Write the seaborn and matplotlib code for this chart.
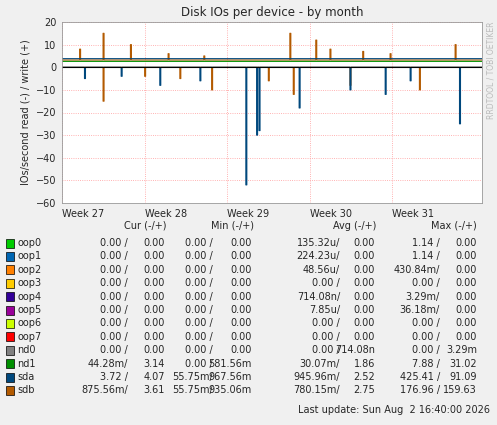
import numpy as np
import matplotlib.pyplot as plt
import seaborn as sns

sns.set_style("white")
plt.rcParams['font.family'] = ['DejaVu Sans']

# days since start of week 27
week_ticks = [0, 7, 14, 21, 28]
week_labels = ["Week 27", "Week 28", "Week 29", "Week 30", "Week 31"]

# spikes (day, value)
sda_read_spikes = [(1.9, -5), (8.3, -8), (11.7, -6), (15.6, -52), (16.5, -30), (16.7, -28),
                   (20.1, -18), (24.4, -10), (27.4, -12), (33.7, -25), (29.5, -6), (5.0, -4)]
sdb_write_spikes = [(1.5, 8), (3.5, 15), (5.8, 10), (12.0, 5), (19.3, 15), (21.5, 12),
                    (22.7, 8), (27.8, 6), (33.3, 10), (9.0, 6), (25.5, 7)]
sdb_read_spikes = [(3.5, -15), (10.0, -5), (12.7, -10), (19.6, -12), (24.4, -8),
                   (30.3, -10), (17.5, -6), (7.0, -4)]
sda_write_base = 3.8
sdb_write_base = 3.2
nd1_write_base = 2.6

names = ["oop0", "oop1", "oop2", "oop3", "oop4", "oop5", "oop6", "oop7", "nd0", "nd1", "sda", "sdb"]
colors = ["#00cc00", "#0066b3", "#ff8000", "#ffcc00", "#330099", "#990099",
          "#ccff00", "#ff0000", "#808080", "#008f00", "#00487d", "#b35a00"]
cur = [("0.00 /", "0.00")] * 9 + [("44.28m/", "3.14"), ("3.72 /", "4.07"), ("875.56m/", "3.61")]
mins = [("0.00 /", "0.00")] * 9 + [("0.00 /", "581.56m"), ("55.75m/", "967.56m"), ("55.75m/", "935.06m")]
avgs = [("135.32u/", "0.00"), ("224.23u/", "0.00"), ("48.56u/", "0.00"), ("0.00 /", "0.00"),
        ("714.08n/", "0.00"), ("7.85u/", "0.00"), ("0.00 /", "0.00"), ("0.00 /", "0.00"),
        ("0.00 /", "714.08n"), ("30.07m/", "1.86"), ("945.96m/", "2.52"), ("780.15m/", "2.75")]
maxs = [("1.14 /", "0.00"), ("1.14 /", "0.00"), ("430.84m/", "0.00"), ("0.00 /", "0.00"),
        ("3.29m/", "0.00"), ("36.18m/", "0.00"), ("0.00 /", "0.00"), ("0.00 /", "0.00"),
        ("0.00 /", "3.29m"), ("7.88 /", "31.02"), ("425.41 /", "91.09"), ("176.96 /", "159.63")]

x = np.linspace(0, 35.6, 860)

def series(base, spikes):
    y = np.full_like(x, base)
    for d, v in spikes:
        i = int(round(d / 35.6 * (len(x) - 1)))
        y[i:i + 2] = v
    return y

fig = plt.figure(figsize=(4.97, 4.25), dpi=100, facecolor="#f0f0f0")
ax = fig.add_axes([62 / 497, 1 - 203 / 425, 420 / 497, 181 / 425])
ax.set_facecolor("white")

ax.step(x, series(0, sdb_read_spikes), where="post", color="#b35a00", lw=0.8)
ax.step(x, series(0, sda_read_spikes), where="post", color="#00487d", lw=0.8)
ax.step(x, series(sdb_write_base, sdb_write_spikes), where="post", color="#b35a00", lw=0.8)
ax.step(x, series(sda_write_base, []), where="post", color="#00487d", lw=0.8)
ax.step(x, series(nd1_write_base, []), where="post", color="#008f00", lw=0.8)
ax.axhline(0, color="black", lw=0.8)

ax.set_xlim(0, 35.6)
ax.set_ylim(-60, 20)
ax.set_yticks(range(-60, 21, 10))
ax.set_xticks(week_ticks)
ax.set_xticklabels(week_labels, ha="left")
ax.tick_params(labelsize=7, length=2, pad=2)
ax.grid(True, color="#ff9999", ls=":", lw=0.6)
for s in ax.spines.values():
    s.set_color("#999999")
    s.set_linewidth(0.6)
ax.set_ylabel("IOs/second read (-) / write (+)", fontsize=7)
ax.set_title("Disk IOs per device - by month", fontsize=8.5, pad=4)
fig.text(486 / 497, 0.95, "RRDTOOL / TOBI OETIKER", rotation=90, fontsize=5.5,
         color="#bbbbbb", va="top")

def ty(py):
    return 1 - py / 425

fs = 7
cols = [(128, 165, cur), (213, 252, mins), (340, 375, avgs), (440, 477, maxs)]
for hx, hdr in zip([167, 254, 376, 477], ["Cur (-/+)", "Min (-/+)", "Avg (-/+)", "Max (-/+)"]):
    fig.text(hx / 497, ty(226), hdr, ha="right", va="center", fontsize=fs)
for i, n in enumerate(names):
    yy = ty(243 + i * 13.4)
    fig.patches.append(plt.Rectangle((6 / 497, yy - 0.011), 8 / 497, 9 / 425,
                                     transform=fig.transFigure, facecolor=colors[i],
                                     edgecolor="black", lw=0.5))
    fig.text(17 / 497, yy, n, va="center", fontsize=fs)
    for rx, wx, vals in cols:
        fig.text(rx / 497, yy, vals[i][0], ha="right", va="center", fontsize=fs)
        fig.text(wx / 497, yy, vals[i][1], ha="right", va="center", fontsize=fs)
fig.text(490 / 497, ty(410), "Last update: Sun Aug  2 16:40:00 2026", ha="right",
         va="center", fontsize=fs)

fig.savefig("out.png", dpi=100, facecolor=fig.get_facecolor())
